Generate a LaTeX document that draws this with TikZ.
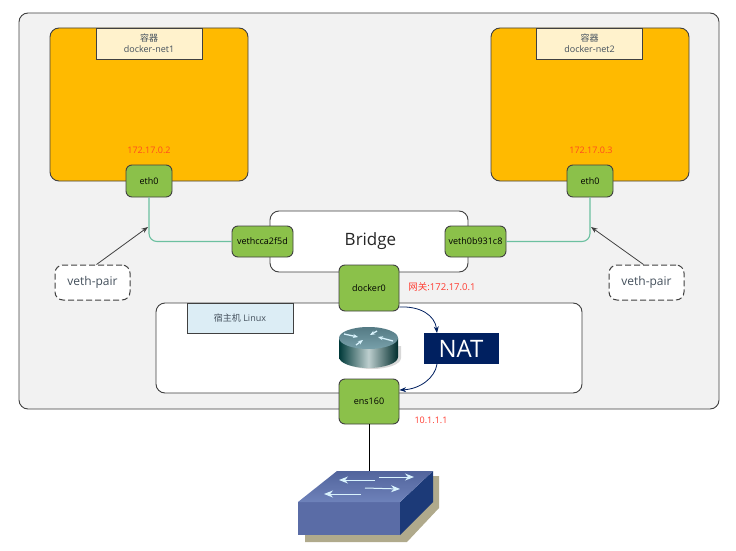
\documentclass[tikz,border=0pt]{standalone}
\usepackage{fontspec}
\setmainfont{Open Sans}
\newfontfamily\cjk{Noto Sans CJK SC}
\usetikzlibrary{arrows.meta}
\definecolor{cframe}{HTML}{F2F2F2}
\definecolor{cyellow}{HTML}{FFBA00}
\definecolor{clabel}{HTML}{FFF2CC}
\definecolor{cgreen}{HTML}{8BC14A}
\definecolor{chost}{HTML}{DCEDF5}
\definecolor{cnat}{HTML}{002060}
\definecolor{cpair}{HTML}{6CC0A0}
\definecolor{cip}{HTML}{FF4A20}
\definecolor{cgate}{HTML}{FF3B30}
\definecolor{cedge}{HTML}{404040}
\definecolor{ctext}{HTML}{44505C}

\begin{document}
\begin{tikzpicture}[x=1pt,y=-1pt,>=Stealth,
  box node/.style={draw=cedge,line width=0.9pt,rounded corners=#1,inner sep=0pt,align=center},
  box node/.default=9pt,
  label node/.style={draw=cedge,line width=0.8pt,inner sep=0pt,align=center,font=\fontsize{9}{11}\selectfont,text=ctext},
  port node/.style={box node=6pt,fill=cgreen,text=black,font=\fontsize{9}{11}\selectfont},
  pair node/.style={draw=cedge,line width=1pt,dash pattern=on 6pt off 3pt,rounded corners=8pt,fill=white,
    minimum width=75pt,minimum height=35pt,inner sep=0pt,text=ctext,font=\fontsize{12}{14}\selectfont},
  ip node/.style={text=cip,inner sep=0pt,font=\fontsize{9}{11}\selectfont},
  pair line/.style={draw=cpair,line width=1.1pt,rounded corners=8pt},
  nat line/.style={->,draw=cnat,line width=0.8pt}]
  \useasboundingbox (0,0) rectangle (736,551);
  \node[box node,fill=cframe,minimum width=700pt,minimum height=396pt] (frame) at (369,211) {};

  % containers
  \node[box node,fill=cyellow,minimum width=198pt,minimum height=153pt] (net1) at (149,104.5) {};
  \node[box node,fill=cyellow,minimum width=198pt,minimum height=153pt] (net2) at (590,104.5) {};
  \node[label node,fill=clabel,minimum width=106pt,minimum height=31pt] (name1) at (149,43.5) {{\cjk 容器}\\docker-net1};
  \node[label node,fill=clabel,minimum width=106pt,minimum height=31pt] (name2) at (589.5,43.5) {{\cjk 容器}\\docker-net2};
  \node[ip node] (ip1) at (149,150) {172.17.0.2};
  \node[ip node] (ip2) at (591,150) {172.17.0.3};

  % host and bridge
  \node[box node,fill=white,minimum width=426pt,minimum height=90pt] (host) at (369,348) {};
  \node[label node,fill=chost,minimum width=106pt,minimum height=30pt] (hostname) at (240,318) {{\cjk 宿主机} Linux};
  \node[box node,fill=white,minimum width=198pt,minimum height=61pt] (bridge) at (369,241.5) {};
  \node[inner sep=0pt,text=black!85,font=\fontsize{17}{20}\selectfont] (bridgename) at (370.5,241.5) {Bridge};

  % ports
  \node[port node,minimum width=46pt,minimum height=32pt] (eth1) at (149,181) {eth0};
  \node[port node,minimum width=46pt,minimum height=32pt] (eth2) at (590,181) {eth0};
  \node[port node,minimum width=61pt,minimum height=31pt] (veth1) at (262.5,241.5) {vethcca2f5d};
  \node[port node,minimum width=61pt,minimum height=31pt] (veth2) at (475.5,241.5) {veth0b931c8};
  \node[port node,minimum width=60pt,minimum height=46pt] (docker) at (369,288) {docker0};
  \node[port node,minimum width=60pt,minimum height=45pt] (ens) at (369,401.5) {ens160};
  \node[ip node,text=cgate,font=\fontsize{9.5}{11}\selectfont] (gw) at (442,287) {{\cjk 网关}:172.17.0.1};
  \node[ip node,text=cgate] (ip3) at (431,420) {10.1.1.1};

  % veth pair
  \draw[pair line] (eth1.south) |- (veth1.west);
  \draw[pair line] (eth2.south) |- (veth2.east);
  \node[pair node] (pair1) at (92.5,282.5) {veth-pair};
  \node[pair node] (pair2) at (646.5,282.5) {veth-pair};
  \coordinate (tip1) at (148,227);
  \coordinate (tip2) at (591,227);
  \draw[->,draw=cedge,line width=0.8pt] (pair1.north) ++(4,0) coordinate (from1) -- (tip1);
  \draw[->,draw=cedge,line width=0.8pt] (pair2.north) ++(-3,0) coordinate (from2) -- (tip2);

  % nat
  \node[fill=cnat,text=white,minimum width=75pt,minimum height=31pt,inner sep=0pt,font=\fontsize{24}{26}\selectfont] (nat) at (461,348.5) {NAT};
  \coordinate (natin) at (437,333);
  \coordinate (natout) at (437,364);
  \draw[nat line] (docker.east |- 0,307) coordinate (dockerout) .. controls (420,306) and (435,315) .. (natin);
  \draw[nat line] (natout) .. controls (435,378) and (420,389) .. (ens.east |- 0,390);

  % router
  \fill[black!25,opacity=0.6] (343,346) -- (343,358) arc[start angle=180,end angle=360,x radius=29pt,y radius=11pt] -- (401,346) -- cycle;
  \shade[left color=teal!45!black,right color=teal!35!black,middle color=cyan!15!gray!45] (339,338) -- (339,357)
    arc[start angle=180,end angle=360,x radius=29.5pt,y radius=11pt] -- (398,338) -- cycle;
  \shade[top color={rgb,255:red,84;green,122;blue,132},bottom color={rgb,255:red,120;green,160;blue,170}] (368.5,338) ellipse[x radius=29.5pt,y radius=11pt];
  \foreach \xa/\ya/\xb/\yb in {344/334/358/337, 393/341/378/337, 377/331/370/335, 356/345/363/340}
    \draw[-{Stealth[length=5pt,width=4pt]},white!85!cyan,line width=1.3pt] (\xa,\ya) -- (\xb,\yb);

  % switch
  \coordinate (swtop) at (369,471);
  \draw[line width=1pt,black] (ens.south) -- (swtop);
  \fill[color={rgb,255:red,176;green,170;blue,140}] (305,535) -- (400,535) -- (433,476) -- (439,476) -- (439,508) -- (407,542) -- (305,542) -- cycle;
  \fill[color={rgb,255:red,90;green,108;blue,166}] (298,502) -- (400,502) -- (400,535) -- (298,535) -- cycle;
  \fill[color={rgb,255:red,28;green,58;blue,120}] (400,502) -- (433,471) -- (433,502) -- (400,535) -- cycle;
  \shade[top color={rgb,255:red,82;green,100;blue,156},bottom color={rgb,255:red,110;green,130;blue,186}] (298,502) -- (337,471) -- (433,471) -- (400,502) -- cycle;
  \foreach \xa/\ya/\xb/\yb in {375/480/339/480, 379/477/414/477, 361/494/324/494, 365/488/400/489}
    \draw[-{Stealth[length=9pt,width=7pt]},white!85!cyan,line width=1pt] (\xa,\ya) -- (\xb,\yb);
\end{tikzpicture}
\end{document}
